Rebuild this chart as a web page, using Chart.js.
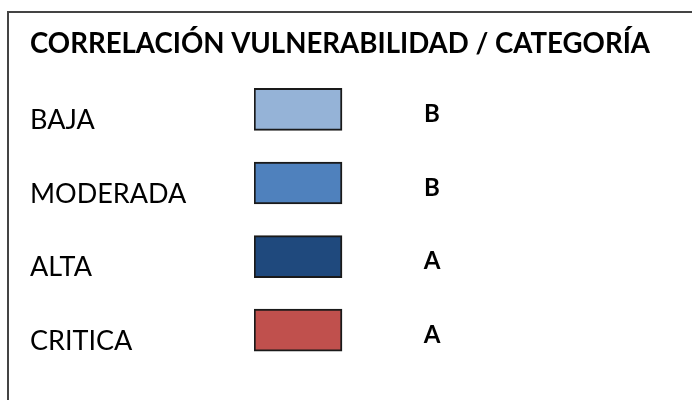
<!DOCTYPE html>
<html>
<head>
<meta charset="utf-8">
<script src="https://cdn.jsdelivr.net/npm/chart.js@4.4.0/dist/chart.umd.min.js"></script>
<style>
  html, body { margin: 0; padding: 0; background: #fff; overflow: hidden; }
  #wrap { width: 692px; height: 400px; }
</style>
</head>
<body>
<div id="wrap"><canvas id="tabla"></canvas></div>
<script>
// datos de la tabla
const titulo = 'CORRELACIÓN VULNERABILIDAD / CATEGORÍA';
const niveles = ['BAJA', 'MODERADA', 'ALTA', 'CRITICA'];
const categorias = ['B', 'B', 'A', 'A'];
const colores = ['#95b3d7', '#4f81bd', '#1f497d', '#c0504d'];
const muestra = [0, 1];      // cada color ocupa una unidad en el eje x
const posCategoria = 2;      // columna de la letra

// marco y letras de categoria
const marcoPlugin = {
  id: 'marco',
  afterDatasetsDraw(chart) {
    const ctx = chart.ctx;
    const x = chart.scales.x;
    const y = chart.scales.y;
    ctx.save();
    ctx.fillStyle = '#000';
    ctx.font = 'bold 24px Lato';
    ctx.textAlign = 'center';
    ctx.textBaseline = 'middle';
    categorias.forEach((c, i) => {
      ctx.fillText(c, x.getPixelForValue(posCategoria) + 2, y.getPixelForValue(i) + 5);
    });
    ctx.restore();
  },
  afterDraw(chart) {
    const ctx = chart.ctx;
    ctx.save();
    ctx.strokeStyle = '#444';
    ctx.lineWidth = 2;
    ctx.beginPath();
    ctx.moveTo(8, chart.height + 5);
    ctx.lineTo(8, 12);
    ctx.lineTo(chart.width + 5, 12);
    ctx.stroke();
    ctx.restore();
  }
};

new Chart(document.getElementById('tabla').getContext('2d'), {
  type: 'bar',
  data: {
    labels: niveles,
    datasets: [{
      data: niveles.map(() => muestra),
      backgroundColor: colores,
      borderColor: '#1a1a1a',
      borderWidth: 2,
      borderSkipped: false,
      barThickness: 42,
    }],
  },
  options: {
    indexAxis: 'y',
    responsive: true,
    maintainAspectRatio: false,
    animation: false,
    layout: { padding: { left: 30, right: 42, top: 14, bottom: 33 } },
    plugins: {
      legend: { display: false },
      tooltip: { enabled: false },
      title: {
        display: true,
        text: titulo,
        align: 'start',
        color: '#000',
        font: { family: 'Lato', size: 28, weight: 'bold', lineHeight: 1.2 },
        padding: { top: 13, bottom: 12 },
      },
    },
    scales: {
      x: { display: false, min: 0, max: 4.5 },
      y: {
        grid: { display: false },
        border: { display: false },
        afterFit(scale) { scale.width = 224; },
        ticks: {
          crossAlign: 'far',
          labelOffset: 11,
          color: '#000',
          font: { family: 'Lato', size: 27 },
        },
      },
    },
  },
  plugins: [marcoPlugin],
});
</script>
</body>
</html>
